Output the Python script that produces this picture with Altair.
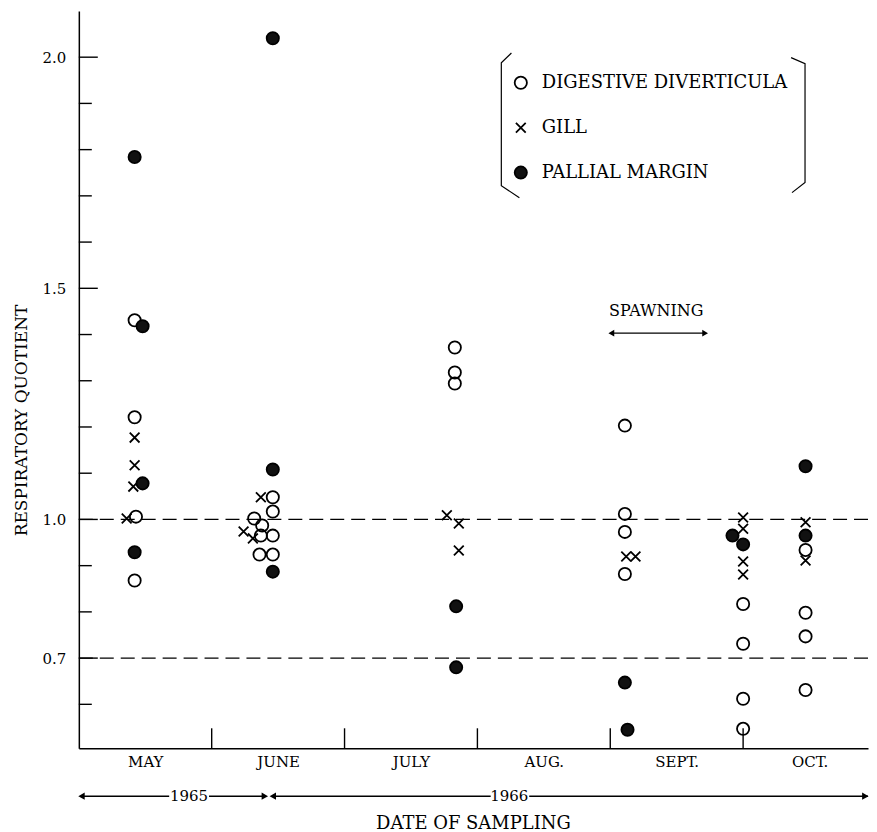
import altair as alt
import pandas as pd

# ---------------- data (x in month units from start of May, y = respiratory quotient)
months = ["MAY", "JUNE", "JULY", "AUG.", "SEPT.", "OCT."]
tissues = ["DIGESTIVE DIVERTICULA", "GILL", "PALLIAL MARGIN"]

dd_x = [0.42, 0.42, 0.43, 0.42,
        1.46, 1.46, 1.32, 1.38, 1.37, 1.46, 1.36, 1.46,
        2.83, 2.83, 2.83,
        4.11, 4.11, 4.11, 4.11,
        5.00, 5.00, 5.00, 5.00,
        5.47, 5.47, 5.47, 5.47]
dd_y = [1.431, 1.221, 1.006, 0.868,
        1.048, 1.017, 1.002, 0.987, 0.965, 0.965, 0.924, 0.924,
        1.372, 1.318, 1.294,
        1.203, 1.012, 0.973, 0.882,
        0.817, 0.731, 0.612, 0.547,
        0.934, 0.798, 0.747, 0.631]

gill_x = [0.42, 0.42, 0.41, 0.36,
          1.37, 1.24, 1.31,
          2.77, 2.86, 2.86,
          4.12, 4.19,
          5.00, 5.00, 5.00, 5.00,
          5.47, 5.47]
gill_y = [1.177, 1.117, 1.071, 1.002,
          1.048, 0.974, 0.959,
          1.009, 0.991, 0.933,
          0.920, 0.920,
          1.004, 0.980, 0.909, 0.881,
          0.994, 0.911]

pm_x = [0.42, 0.48, 0.48, 0.42,
        1.46, 1.46, 1.46,
        2.84, 2.84,
        4.11, 4.13,
        4.92, 5.00,
        5.47, 5.47]
pm_y = [1.784, 1.418, 1.078, 0.929,
        2.041, 1.108, 0.887,
        0.812, 0.680,
        0.647, 0.545,
        0.965, 0.946,
        1.115, 0.965]

ref_lines = [1.0, 0.7]
major_ticks = [0.7, 1.0, 1.5, 2.0]
minor_ticks = [0.6, 0.8, 0.9, 1.1, 1.2, 1.3, 1.4, 1.6, 1.7, 1.8, 1.9]
month_bounds = [1, 2, 3, 4, 5]

# decorations (data coordinates)
br_x = [3.256, 3.180, 3.180, 3.316, 5.361, 5.466, 5.466, 5.368]
br_y = [2.009, 1.988, 1.722, 1.696, 1.999, 1.986, 1.729, 1.707]
br_id = ["L", "L", "L", "L", "R", "R", "R", "R"]
br_ord = [0, 1, 2, 3, 0, 1, 2, 3]

spawn_label = "SPAWNING"
spawn_x, spawn_y = 4.346, 1.450
spawn_arrow = [4.008, 4.714]
spawn_arrow_y = 1.403

year_labels = ["1965", "1966"]
year_x = [0.83, 3.24]
year_seg_x = [0.02, 0.98, 1.46, 3.39]
year_seg_x2 = [0.68, 1.40, 3.10, 5.94]
year_left_heads = [0.02, 1.46]
year_right_heads = [1.40, 5.92]

FONT = "DejaVu Serif"
XMAX = 5.94
W, H = 791, 739

# ---------------- tables
pts = pd.DataFrame(
    {"m": dd_x + gill_x + pm_x,
     "v": dd_y + gill_y + pm_y,
     "tissue": [tissues[0]] * len(dd_x) + [tissues[1]] * len(gill_x) + [tissues[2]] * len(pm_x)}
)

xs = alt.Scale(domain=[0, XMAX], nice=False, zero=False)
ys = alt.Scale(domain=[0.505, 2.1], nice=False, zero=False)

X_PATH = "M-0.8,-0.8L0.8,0.8M-0.8,0.8L0.8,-0.8"

label_expr = "[" + ",".join("'%s'" % m for m in months) + "][floor(datum.value)]"

points = alt.Chart(pts).mark_point(
    filled=True, strokeWidth=1.8, size=150, opacity=1
).encode(
    x=alt.X("m:Q", scale=xs, axis=alt.Axis(
        values=[i + 0.5 for i in range(len(months))], labelExpr=label_expr,
        ticks=False, grid=False, domainColor="black", domainWidth=1.5,
        labelFont=FONT, labelFontSize=15, labelColor="black", labelPadding=6,
        title="DATE OF SAMPLING", titleFont=FONT, titleFontSize=18,
        titleFontWeight="normal", titleColor="black", titlePadding=45,
        titleX=395)),
    y=alt.Y("v:Q", scale=ys, axis=alt.Axis(
        values=major_ticks, format=".1f", ticks=False, grid=False,
        domainColor="black", domainWidth=1.5,
        labelFont=FONT, labelFontSize=15, labelColor="black", labelPadding=13,
        title="RESPIRATORY QUOTIENT", titleFont=FONT, titleFontSize=17,
        titleFontWeight="normal", titleColor="black", titlePadding=12,
        titleY=410)),
    shape=alt.Shape("tissue:N", scale=alt.Scale(domain=tissues, range=["circle", X_PATH, "circle"]),
                    legend=alt.Legend(title=None)),
    fill=alt.Fill("tissue:N", scale=alt.Scale(domain=tissues, range=["transparent", "transparent", "#111111"]),
                  legend=alt.Legend(title=None)),
    stroke=alt.Stroke("tissue:N", scale=alt.Scale(domain=tissues, range=["black", "black", "black"]),
                      legend=alt.Legend(title=None)),
)

dash = alt.Chart(pd.DataFrame({"v": ref_lines})).mark_rule(
    strokeDash=[14, 7], strokeWidth=1.3, color="black"
).encode(y=alt.Y("v:Q", scale=ys, axis=None))

tick_major = alt.Chart(pd.DataFrame({"v": major_ticks})).mark_rule(
    strokeWidth=1.4, color="black"
).encode(y=alt.Y("v:Q", scale=ys, axis=None), x=alt.value(0), x2=alt.value(19))

tick_minor = alt.Chart(pd.DataFrame({"v": minor_ticks})).mark_rule(
    strokeWidth=1.4, color="black"
).encode(y=alt.Y("v:Q", scale=ys, axis=None), x=alt.value(0), x2=alt.value(13))

bounds = alt.Chart(pd.DataFrame({"m": month_bounds})).mark_rule(
    strokeWidth=1.4, color="black"
).encode(x=alt.X("m:Q", scale=xs, axis=None), y=alt.value(H), y2=alt.value(H - 20))

brackets = alt.Chart(pd.DataFrame({"m": br_x, "v": br_y, "id": br_id, "o": br_ord})).mark_line(
    color="black", strokeWidth=1.2
).encode(
    x=alt.X("m:Q", scale=xs, axis=None), y=alt.Y("v:Q", scale=ys, axis=None),
    detail="id:N", order="o:Q"
)

spawn_text = alt.Chart(pd.DataFrame({"m": [spawn_x], "v": [spawn_y], "t": [spawn_label]})).mark_text(
    font=FONT, fontSize=16, color="black"
).encode(x=alt.X("m:Q", scale=xs, axis=None), y=alt.Y("v:Q", scale=ys, axis=None), text="t:N")

spawn_line = alt.Chart(pd.DataFrame({"m": [spawn_arrow[0]], "m2": [spawn_arrow[1]], "v": [spawn_arrow_y]})).mark_rule(
    color="black", strokeWidth=1.4
).encode(x=alt.X("m:Q", scale=xs, axis=None), x2="m2:Q", y=alt.Y("v:Q", scale=ys, axis=None))

spawn_lh = alt.Chart(pd.DataFrame({"m": [spawn_arrow[0]], "v": [spawn_arrow_y]})).mark_point(
    filled=True, color="black", size=45, opacity=1, shape="triangle-left"
).encode(x=alt.X("m:Q", scale=xs, axis=None), y=alt.Y("v:Q", scale=ys, axis=None))

spawn_rh = alt.Chart(pd.DataFrame({"m": [spawn_arrow[1]], "v": [spawn_arrow_y]})).mark_point(
    filled=True, color="black", size=45, opacity=1, shape="triangle-right"
).encode(x=alt.X("m:Q", scale=xs, axis=None), y=alt.Y("v:Q", scale=ys, axis=None))

YR = H + 48
year_lines = alt.Chart(pd.DataFrame({"m": year_seg_x, "m2": year_seg_x2})).mark_rule(
    color="black", strokeWidth=1.5
).encode(x=alt.X("m:Q", scale=xs, axis=None), x2="m2:Q", y=alt.value(YR))

year_lh = alt.Chart(pd.DataFrame({"m": year_left_heads})).mark_point(
    filled=True, color="black", size=55, opacity=1, shape="triangle-left"
).encode(x=alt.X("m:Q", scale=xs, axis=None), y=alt.value(YR))

year_rh = alt.Chart(pd.DataFrame({"m": year_right_heads})).mark_point(
    filled=True, color="black", size=55, opacity=1, shape="triangle-right"
).encode(x=alt.X("m:Q", scale=xs, axis=None), y=alt.value(YR))

year_text = alt.Chart(pd.DataFrame({"m": year_x, "t": year_labels})).mark_text(
    font=FONT, fontSize=15, color="black"
).encode(x=alt.X("m:Q", scale=xs, axis=None), y=alt.value(YR), text="t:N")

chart = alt.layer(
    points,
    dash, tick_major, tick_minor, bounds, brackets,
    spawn_text, spawn_line, spawn_lh, spawn_rh,
    year_lines, year_lh, year_rh, year_text,
).resolve_axis(x="independent", y="independent").properties(
    width=W, height=H,
    padding={"left": 4, "top": 2, "right": 0, "bottom": 4},
    background="white",
).configure_view(stroke=None).configure_legend(
    orient="none", legendX=434, legendY=63, padding=0,
    labelFont=FONT, labelFontSize=18, labelColor="black", labelOffset=12, labelLimit=0,
    rowPadding=26, symbolSize=150, symbolStrokeWidth=1.8,
)

chart.save("out.html", embed_options={"renderer": "svg", "actions": False})
